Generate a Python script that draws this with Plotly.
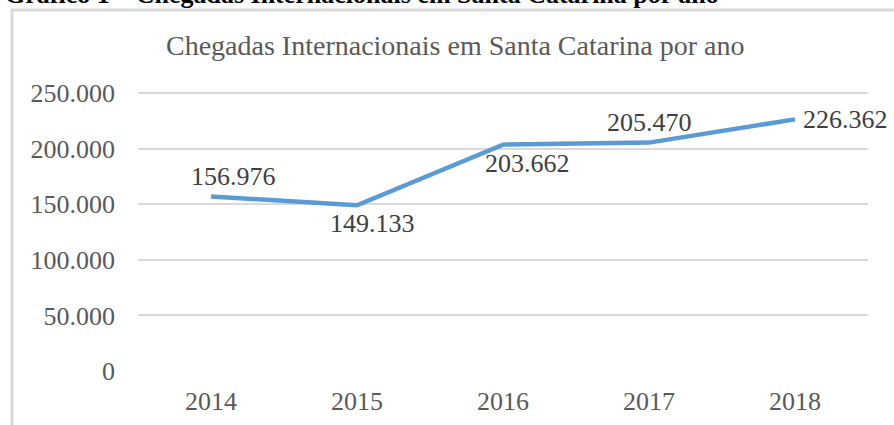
import plotly.graph_objects as go

years = ["2014", "2015", "2016", "2017", "2018"]
arrivals = [156976, 149133, 203662, 205470, 226362]
y_tick_vals = [0, 50000, 100000, 150000, 200000, 250000]
y_tick_text = ["0", "50.000", "100.000", "150.000", "200.000", "250.000"]
chart_title = "Chegadas Internacionais em Santa Catarina por ano"
caption = "Gráfico 1 – Chegadas Internacionais em Santa Catarina por ano"

SERIF = "Liberation Serif, Times New Roman, serif"


def fmt(v):
    return f"{v:,}".replace(",", ".")


W, H = 894, 425
L, R, T, B = 138, 26, 82, 54
PW, PH = W - L - R, H - T - B


def px(x):
    return (x - L) / PW


def py(y):
    return (H - B - y) / PH


fig = go.Figure()
fig.add_trace(go.Scatter(
    x=years, y=arrivals, mode="lines",
    line=dict(color="#5B9BD5", width=4.5),
    hoverinfo="skip", showlegend=False,
))

# label placement (style)
label_style = [
    dict(xanchor="center", yanchor="middle", xshift=22, yshift=20),
    dict(xanchor="center", yanchor="middle", xshift=15, yshift=-18),
    dict(xanchor="center", yanchor="middle", xshift=24, yshift=-19),
    dict(xanchor="center", yanchor="middle", xshift=0, yshift=20),
    dict(xanchor="left", yanchor="middle", xshift=6, yshift=0),
]
for i, (v, st) in enumerate(zip(arrivals, label_style)):
    fig.add_annotation(x=i, y=v, xref="x", yref="y", text=fmt(v), showarrow=False,
                       font=dict(family=SERIF, size=26, color="#404040"),
                       **st)

fig.add_annotation(xref="paper", yref="paper", x=px(455), y=py(45),
                   text=chart_title, showarrow=False, xanchor="center", yanchor="middle",
                   font=dict(family=SERIF, size=28, color="#595959"))

fig.add_annotation(xref="paper", yref="paper", x=px(3), y=py(-6),
                   text="<b>" + caption + "</b>", showarrow=False, xanchor="left", yanchor="middle",
                   font=dict(family=SERIF, size=26, color="#000000"))

fig.add_shape(type="rect", xref="paper", yref="paper",
              x0=px(12), x1=px(910), y0=py(10), y1=py(440),
              line=dict(color="#d9d9d9", width=3), fillcolor="rgba(0,0,0,0)", layer="below")

fig.update_layout(
    width=W, height=H,
    margin=dict(l=L, r=R, t=T, b=B, autoexpand=False),
    paper_bgcolor="white", plot_bgcolor="white",
    xaxis=dict(type="category", range=[-0.5, 4.5], showgrid=False, zeroline=False,
               showline=False, ticks="", ticklabelstandoff=12, automargin=False,
               tickfont=dict(family=SERIF, size=26, color="#595959")),
    yaxis=dict(range=[0, 260000], tickvals=y_tick_vals, ticktext=y_tick_text,
               showgrid=True, gridcolor="#d9d9d9", gridwidth=1.5, zeroline=False,
               showline=False, ticks="", ticklabelstandoff=22, automargin=False,
               tickfont=dict(family=SERIF, size=26, color="#595959")),
)

fig.write_html("out.html", config={"displayModeBar": False},
               post_script="document.body.style.margin='0px';document.body.style.overflow='hidden';")
